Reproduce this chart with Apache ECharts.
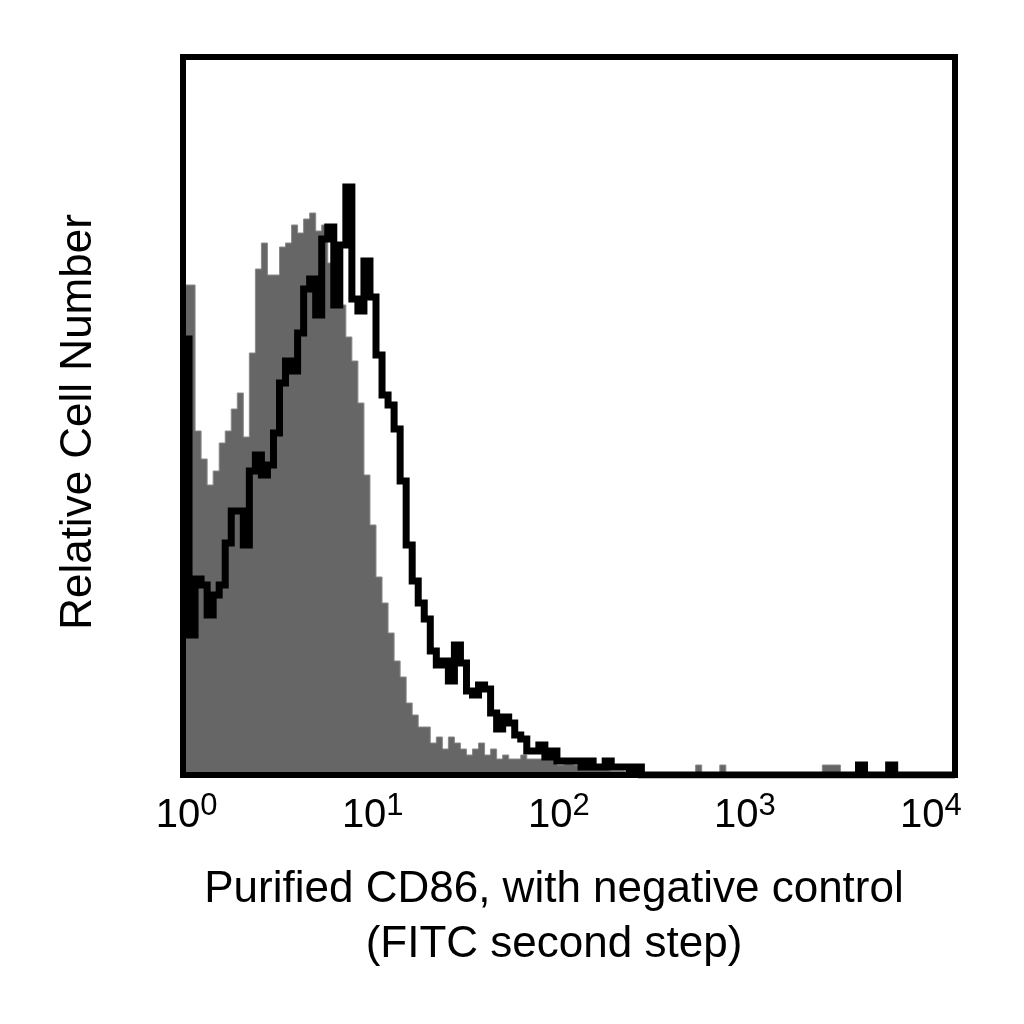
<!DOCTYPE html>
<html>
<head>
<meta charset="utf-8">
<script src="https://cdn.jsdelivr.net/npm/echarts@6/dist/echarts.min.js"></script>
<style>
  html, body { margin: 0; padding: 0; background: #fff; }
  #main { width: 1024px; height: 1024px; }
</style>
</head>
<body>
<div id="main"></div>
<script>
// log10 fluorescence range covered by the plot box (channel scale)
var xMin = -0.02;
var xMax = 4.13;
var decadeTicks = [0, 1, 2, 3, 4];

// negative control (grey, filled), counts per channel
var controlCounts = [
    245, 245, 172, 158, 145, 152, 166, 172, 183, 191,
    169, 211, 253, 266, 250, 250, 264, 266, 275, 271,
    278, 281, 272, 275, 256, 256, 235, 219, 207, 186,
    150, 125, 99, 86, 71, 57, 49, 36, 30, 24,
    24, 16, 19, 13, 19, 16, 13, 10, 13, 16,
    10, 13, 8, 10, 8, 8, 10, 8, 8, 8,
    8, 8, 5, 6, 5, 5, 5, 4, 3, 3,
    2, 2, 2, 1, 1, 1, 0, 0, 0, 0,
    0, 0, 0, 0, 0, 5, 0, 0, 0, 5,
    0, 0, 0, 0, 0, 0, 0, 0, 0, 0,
    0, 0, 0, 0, 0, 0, 5, 5, 5, 0,
    0, 0, 0, 0, 0, 0, 0, 0, 0, 0,
    0, 0, 0, 0, 0, 0, 0, 0
];

// purified CD86 (black outline), counts per channel
var cd86Counts = [
    218, 70, 98, 95, 80, 90, 95, 116, 132, 132,
    115, 152, 160, 150, 155, 171, 196, 207, 202, 221,
    243, 248, 230, 268, 274, 235, 265, 294, 238, 232,
    257, 239, 210, 190, 185, 173, 147, 115, 97, 86,
    78, 62, 55, 57, 47, 65, 56, 42, 40, 45,
    43, 31, 23, 29, 26, 20, 18, 12, 12, 15,
    9, 12, 7, 7, 7, 7, 4, 7, 4, 4,
    7, 4, 4, 4, 2, 4, 0, 0, 0, 0,
    0, 0, 0, 0, 0, 0, 0, 0, 0, 0,
    0, 0, 0, 0, 0, 0, 0, 0, 0, 0,
    0, 0, 0, 0, 0, 0, 0, 0, 0, 0,
    0, 0, 5, 0, 0, 0, 0, 5, 0, 0,
    0, 0, 0, 0, 0, 0, 0, 0
];

var yMax = 359;

// channel left edges -> [x, count] pairs for a step histogram
function toSteps(counts) {
    var n = counts.length;
    var w = (xMax - xMin) / n;
    var out = [];
    for (var i = 0; i < n; i++) {
        out.push([xMin + i * w, counts[i]]);
    }
    out.push([xMax, counts[n - 1]]);
    return out;
}

var myChart = echarts.init(document.getElementById('main'));

var option = {
    animation: false,
    textStyle: { fontFamily: 'Liberation Sans, Arial, sans-serif' },
    grid: {
        left: 183, right: 69, top: 57, bottom: 249,
        show: true,
        borderColor: '#000',
        borderWidth: 6,
        backgroundColor: 'transparent',
        z: 10
    },
    xAxis: {
        type: 'value',
        min: xMin,
        max: xMax,
        axisLine: { show: false },
        axisTick: { show: false },
        splitLine: { show: false },
        axisLabel: {
            customValues: decadeTicks,
            margin: 16,
            fontSize: 40,
            formatter: function (v) {
                return '{b|10}{s|' + Math.round(v) + '}';
            },
            rich: {
                b: { fontSize: 40, lineHeight: 50, color: '#000', fontFamily: 'Liberation Sans' },
                s: { fontSize: 31, lineHeight: 22, verticalAlign: 'top', color: '#000', fontFamily: 'Liberation Sans' }
            }
        },
        name: 'Purified CD86, with negative control\n(FITC second step)',
        nameLocation: 'middle',
        nameGap: 87,
        nameTextStyle: {
            fontSize: 44,
            lineHeight: 55,
            color: '#000',
            padding: [0, 30, 0, 0]
        }
    },
    yAxis: {
        type: 'value',
        min: 0,
        max: yMax,
        axisLine: { show: false },
        axisTick: { show: false },
        axisLabel: { show: false },
        splitLine: { show: false },
        name: 'Relative Cell Number',
        nameLocation: 'middle',
        nameGap: 82,
        nameTextStyle: {
            fontSize: 44,
            color: '#000',
            padding: [0, 12, 0, 0]
        }
    },
    series: [
        {
            name: 'negative control',
            type: 'line',
            step: 'end',
            symbol: 'none',
            data: toSteps(controlCounts),
            lineStyle: { color: '#8a8a8a', width: 1 },
            areaStyle: { color: '#666666', opacity: 1 },
            z: 2
        },
        {
            name: 'CD86',
            type: 'line',
            step: 'end',
            symbol: 'none',
            data: toSteps(cd86Counts),
            lineStyle: { color: '#000', width: 7, cap: 'butt', join: 'miter' },
            z: 3
        }
    ]
};

myChart.setOption(option);
</script>
</body>
</html>
